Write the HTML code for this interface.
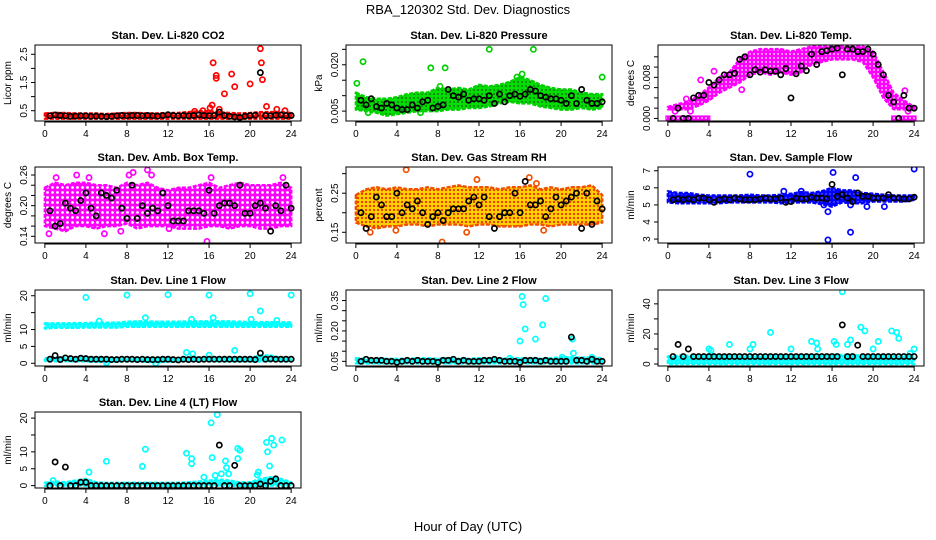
<!DOCTYPE html>
<html><head><meta charset="utf-8"><style>
body{margin:0;background:#fff;}
svg{display:block;font-family:"Liberation Sans",sans-serif;}
</style></head><body>
<svg id="fig" width="936" height="540" viewBox="0 0 936 540" xmlns="http://www.w3.org/2000/svg">
<defs>
<pattern id="pat-red" width="4" height="4" patternUnits="userSpaceOnUse"><rect width="4" height="4" fill="#ff0000"/><circle cx="2" cy="2" r="0.9" fill="#fff"/></pattern>
<pattern id="pat-green" width="4" height="4" patternUnits="userSpaceOnUse"><rect width="4" height="4" fill="#00e000"/><circle cx="2" cy="2" r="0.9" fill="#205020"/></pattern>
<pattern id="pat-mag" width="4" height="4" patternUnits="userSpaceOnUse"><rect width="4" height="4" fill="#ff00ff"/><circle cx="2" cy="2" r="0.9" fill="#fff"/></pattern>
<pattern id="pat-mag2" width="5" height="5" patternUnits="userSpaceOnUse"><rect width="5" height="5" fill="#ff00ff"/><circle cx="2.5" cy="2.5" r="1.4" fill="#fff"/></pattern>
<pattern id="pat-orange" width="4" height="4" patternUnits="userSpaceOnUse"><rect width="4" height="4" fill="#ffd000"/><circle cx="2" cy="2" r="1.1" fill="#e83000"/></pattern>
<pattern id="pat-blue" width="4" height="4" patternUnits="userSpaceOnUse"><rect width="4" height="4" fill="#0000ff"/><circle cx="2" cy="2" r="0.7" fill="#8080ff"/></pattern>
<pattern id="pat-cyan" width="4" height="4" patternUnits="userSpaceOnUse"><rect width="4" height="4" fill="#00ffff"/><circle cx="2" cy="2" r="0.7" fill="#80ffff"/></pattern>
</defs>
<text x="468" y="14" text-anchor="middle" font-size="13">RBA_120302  Std. Dev. Diagnostics</text>
<text x="468" y="531" text-anchor="middle" font-size="13">Hour of Day (UTC)</text>
</svg>
<script>
// ---------- data ----------
const hours = [0,1,2,3,4,5,6,7,8,9,10,11,12,13,14,15,16,17,18,19,20,21,22,23,24];
const blackHours = [0.5,1,1.5,2,2.5,3,3.5,4,4.5,5,5.5,6,6.5,7,7.5,8,8.5,9,9.5,10,10.5,11,11.5,12,12.5,13,13.5,14,14.5,15,15.5,16,16.5,17,17.5,18,18.5,19,19.5,20,20.5,21,21.5,22,22.5,23,23.5,24];
const xTicks = [0,4,8,12,16,20,24];

const p1Lo = [0.22,0.22,0.22,0.22,0.22,0.22,0.22,0.22,0.22,0.22,0.22,0.22,0.22,0.22,0.22,0.22,0.22,0.22,0.22,0.22,0.22,0.22,0.22,0.22,0.22];
const p1Hi = [0.4,0.42,0.42,0.4,0.4,0.4,0.38,0.4,0.42,0.42,0.4,0.4,0.42,0.42,0.45,0.48,0.48,0.45,0.42,0.4,0.42,0.45,0.45,0.45,0.42];
const p1Black = [0.32,0.35,0.33,0.32,0.3,0.31,0.32,0.32,0.3,0.31,0.3,0.29,0.3,0.32,0.33,0.32,0.33,0.33,0.32,0.33,0.32,0.31,0.33,0.36,0.33,0.32,0.33,0.32,0.33,0.35,0.33,0.32,0.33,0.45,0.33,0.3,0.28,0.26,0.3,0.33,0.34,1.85,0.33,0.32,0.34,0.35,0.33,0.33];
const p1OutX = [16.4,16.7,16.7,18.2,18.5,17.5,20,21,21.1,21.2,21.6,16.3,16.1,17,22.6,23.4,15.4,14.6];
const p1OutY = [2.2,1.75,1.65,1.8,1.35,1.1,1.45,2.7,2.2,1.6,0.65,0.7,0.6,0.55,0.55,0.5,0.5,0.48];

const p2Lo = [0.0055,0.005,0.0045,0.0035,0.004,0.0045,0.005,0.005,0.005,0.0055,0.0055,0.006,0.006,0.0065,0.0075,0.008,0.0075,0.0075,0.0065,0.006,0.0055,0.0055,0.006,0.0055,0.006];
const p2Hi = [0.011,0.0095,0.009,0.009,0.0095,0.0105,0.011,0.011,0.0125,0.012,0.0125,0.012,0.0135,0.013,0.0135,0.0145,0.016,0.015,0.0135,0.0125,0.012,0.012,0.011,0.0105,0.0105];
const p2Black = [0.0085,0.007,0.009,0.0065,0.006,0.0075,0.007,0.006,0.0055,0.0055,0.007,0.006,0.008,0.0085,0.006,0.0065,0.007,0.012,0.010,0.0095,0.0105,0.0085,0.009,0.009,0.0085,0.010,0.0075,0.0105,0.008,0.010,0.0105,0.0098,0.0105,0.012,0.0115,0.010,0.0095,0.009,0.009,0.0085,0.0075,0.010,0.0075,0.012,0.0085,0.0075,0.0075,0.008];
const p2OutX = [0.1,0.7,7.3,8.2,8.7,13,17.3,15.7,16.2,24,1.2,6.3];
const p2OutY = [0.014,0.021,0.019,0.013,0.019,0.025,0.025,0.016,0.017,0.016,0.0045,0.0045];

const p3Lo = [0.0018,0.0018,0.0018,0.0025,0.0035,0.005,0.006,0.007,0.0085,0.009,0.0085,0.009,0.0085,0.009,0.0105,0.011,0.0115,0.0115,0.0115,0.011,0.008,0.004,0.0018,0.0018,0.0018];
const p3Hi = [0.0022,0.0028,0.0032,0.0045,0.006,0.008,0.009,0.0115,0.013,0.0135,0.0135,0.0135,0.013,0.0135,0.014,0.014,0.014,0.014,0.014,0.014,0.013,0.009,0.005,0.0035,0.0022];
const p3ZeroStart = [0,22];
const p3ZeroEnd = [3.9,24];
const p3Black = [0,0.002,0,0,0.004,0.0045,0.0045,0.007,0.0065,0.0075,0.0085,0.0085,0.0088,0.0115,0.012,0.0085,0.0095,0.009,0.0095,0.0092,0.0092,0.0085,0.0097,0.004,0.0087,0.0102,0.0093,0.0125,0.0105,0.013,0.0132,0.0135,0.0137,0.0085,0.0135,0.0135,0.013,0.013,0.0135,0.0125,0.0105,0.0085,0.0045,0.0032,0,0.0045,0.002,0.002];
const p3OutX = [0.7,2.2,3.2,4.5,7.2,3.4,2.5,1.8,23.1,23.4];
const p3OutY = [0.0014,0.0014,0.0075,0.0092,0.0056,0.0044,0.0033,0.0038,0.0054,0.0014];

const p4Lo = [0.16,0.155,0.15,0.16,0.16,0.155,0.16,0.16,0.165,0.155,0.16,0.16,0.16,0.155,0.155,0.155,0.16,0.16,0.155,0.16,0.16,0.155,0.155,0.16,0.16];
const p4Hi = [0.235,0.245,0.24,0.245,0.245,0.24,0.24,0.235,0.245,0.24,0.245,0.235,0.23,0.235,0.235,0.24,0.245,0.235,0.24,0.245,0.24,0.24,0.24,0.245,0.235];
const p4Black = [0.19,0.16,0.165,0.205,0.195,0.19,0.21,0.225,0.195,0.18,0.225,0.22,0.215,0.23,0.195,0.175,0.24,0.175,0.2,0.185,0.195,0.19,0.225,0.2,0.17,0.17,0.17,0.19,0.19,0.19,0.185,0.23,0.185,0.2,0.205,0.205,0.2,0.24,0.185,0.185,0.2,0.205,0.195,0.15,0.2,0.19,0.24,0.195];
const p4OutX = [0.4,1.1,3.1,4.3,8.2,8.6,10,10.4,15.8,12.1,16.2,23.2,7.4,5.8];
const p4OutY = [0.145,0.255,0.26,0.255,0.26,0.265,0.27,0.26,0.13,0.155,0.255,0.255,0.15,0.145];

const p5Lo = [0.175,0.165,0.16,0.165,0.165,0.17,0.17,0.165,0.17,0.17,0.17,0.165,0.17,0.17,0.165,0.165,0.165,0.17,0.17,0.165,0.17,0.17,0.17,0.17,0.175];
const p5Hi = [0.245,0.26,0.265,0.26,0.265,0.26,0.26,0.265,0.26,0.265,0.27,0.265,0.265,0.265,0.26,0.265,0.265,0.27,0.26,0.265,0.26,0.265,0.265,0.27,0.245];
const p5Black = [0.20,0.16,0.19,0.24,0.22,0.19,0.19,0.25,0.20,0.22,0.21,0.23,0.20,0.17,0.19,0.20,0.18,0.20,0.21,0.21,0.21,0.23,0.24,0.22,0.24,0.19,0.16,0.19,0.20,0.20,0.25,0.20,0.28,0.22,0.22,0.23,0.19,0.21,0.24,0.22,0.23,0.24,0.25,0.16,0.25,0.17,0.23,0.21];
const p5OutX = [4.9,8.4,11.8,10.8,17.6,18.3,3.9,1.4,16.9];
const p5OutY = [0.31,0.125,0.285,0.15,0.275,0.155,0.155,0.15,0.29];

const p6Lo = [5.15,5.1,5.1,5.1,5.1,5.1,5.15,5.15,5.15,5.15,5.15,5.1,5.15,5.15,5.15,5.05,4.9,5.15,5.1,5.1,5.2,5.2,5.2,5.2,5.3];
const p6Hi = [5.8,5.7,5.7,5.6,5.55,5.55,5.55,5.55,5.6,5.55,5.55,5.6,5.65,5.75,5.7,5.8,6.0,5.85,5.85,5.7,5.65,5.6,5.55,5.55,5.55];
const p6Black = [5.3,5.35,5.3,5.35,5.3,5.4,5.4,5.3,5.15,5.3,5.35,5.3,5.4,5.35,5.3,5.3,5.3,5.35,5.4,5.35,5.35,5.4,5.15,5.2,5.4,5.35,5.35,5.45,5.4,5.4,5.35,6.2,5.5,5.6,5.4,5.2,5.7,5.5,5.5,5.4,5.4,5.4,5.6,5.4,5.4,5.35,5.35,5.45];
const p6OutX = [8,15.6,15.6,16.1,17.8,18.3,21.1,24,11.3,13,19.4,17.8,15.2];
const p6OutY = [6.8,2.95,4.6,6.9,3.4,6.6,4.9,7.1,5.8,5.8,4.9,5.0,5.0];

const p7Lo = [10.3,10.5,10.5,10.5,10.6,10.6,10.6,10.6,10.8,10.8,10.8,10.8,10.8,10.8,10.8,10.8,10.8,10.8,10.8,10.8,10.8,10.8,10.8,10.8,10.8];
const p7Hi = [11.8,11.8,11.8,11.9,11.9,12,12,12,12.3,12.4,12.4,12.3,12.3,12.3,12.4,12.4,12.4,12.4,12.4,12.3,12.2,12.2,12.2,12.1,12.1];
const p7LowLo = [0.7,0.6,0.6,0.6,0.6,0.5,0.4,0.5,0.6,0.6,0.4,0.3,0.5,0.6,0.6,0.6,0.6,0.6,0.6,0.6,0.6,0.6,0.6,0.6,0.6];
const p7LowHi = [1.5,1.6,1.6,1.6,1.6,1.5,1.5,1.5,1.5,1.5,1.5,1.5,1.5,1.5,1.6,1.6,1.6,1.6,1.6,1.6,1.6,2.3,2.3,1.6,1.6];
const p7Black = [1.2,2.3,1.1,1.6,1.4,1.2,1.5,1.4,1.2,1.2,1.2,1.2,1.1,1.1,1.2,1.2,1.2,1.1,1.2,1.1,1.1,1.1,1.2,1.2,1.1,1.0,1.2,1.1,1.2,1.1,1.2,1.2,1.2,1.2,1.2,1.2,1.2,1.2,1.2,1.2,1.1,3.0,1.2,1.3,1.2,1.2,1.2,1.2];
const p7OutX = [4,8,12,16,20,24,21,9.8,14.3,16.4,20.1,22.6,5.3,13.8,14.4,18.5,16,10.8,6];
const p7OutY = [19.5,20.2,20.3,20.2,20.6,20.2,15.5,13.5,13,13.5,13,12.7,12.5,3.2,2.8,3.8,2.4,0,0.2];

const p8Lo = [0.04,0.04,0.04,0.04,0.04,0.04,0.04,0.04,0.04,0.04,0.04,0.04,0.04,0.04,0.04,0.04,0.04,0.04,0.04,0.04,0.04,0.04,0.04,0.04,0.04];
const p8Hi = [0.065,0.062,0.062,0.062,0.062,0.062,0.065,0.065,0.062,0.065,0.062,0.062,0.065,0.065,0.062,0.065,0.065,0.062,0.062,0.065,0.07,0.07,0.068,0.07,0.065];
const p8Black = [0.05,0.06,0.055,0.055,0.055,0.05,0.05,0.045,0.05,0.055,0.05,0.055,0.05,0.05,0.05,0.045,0.055,0.055,0.06,0.05,0.055,0.05,0.05,0.05,0.055,0.055,0.06,0.055,0.05,0.05,0.05,0.045,0.055,0.055,0.055,0.05,0.055,0.05,0.05,0.05,0.05,0.17,0.055,0.055,0.05,0.06,0.05,0.05];
const p8OutX = [16.2,16.3,16.5,16,17.5,18.2,18.5,21.1,21.2,20.1,23,15];
const p8OutY = [0.37,0.33,0.21,0.15,0.16,0.23,0.36,0.16,0.09,0.07,0.07,0.065];

const p9Lo = [0,0,0,0,0,0,0,0,0,0,0,0,0,0,0,0,0,0,0,0,0,0,0,0,0];
const p9Hi = [5,5.5,5.5,5.5,5.5,5.5,5.5,5.5,5.5,5.5,5.5,5.5,5.5,5.5,6,6,6,6,6,5.5,5.5,5.5,5.5,5.5,5];
const p9Black = [5,13,5,10,5,5,5,5,5,5,5,5,5,5,5,5,5,5,5,5,5,5,5,5,5,5,5,5,5,5,5,5,5,26,5,5,12.5,5,5,5,5,5,5,5,5,5,5,5];
const p9OutX = [17,8.3,10,14,14.5,16.2,16.4,17.5,17.8,18.8,19.2,21.8,22.3,22.5,20.5,6,4,4.2,8,12,20,24,23.6,14.6];
const p9OutY = [48,13,21,15,14,15,13,13,16,24.5,22,22,21,17,15,13,10,9,10,10,10,10,7,10];

const p10Lo = [0,0,0,0,0,0,0,0,0,0,0,0,0,0,0,0,0,0,0,0,0,0,0,0,0];
const p10Hi = [0.8,1.2,1,1.5,2,1,0.8,0.8,0.8,0.8,0.8,0.8,0.8,0.8,1,1.2,1.5,1.8,1.5,1,1,2,2.5,2,1];
const p10Black = [0,7,0,5.5,0,0,1,1,0,0,0,0,0,0,0,0,0,0,0,0,0,0,0,0,0,0,0,0,0,0,0,0,0,12,0,0,6,0,0,0,0,0.5,0,1.3,2,0,0,0];
const p10OutX = [16.8,16.2,22.1,23.1,21.6,22.3,18.8,19,21.7,9.8,13.8,14.3,14.3,9.5,6,16.3,17.6,17.7,17.9,18.8,21.9,4.3,17.2,16.6,15.5,0.8,20.8,20.7];
const p10OutY = [21,18.6,14,13.5,12.8,12,11,10.5,10,10.8,9.6,8,6.5,5.7,7.2,8.3,7.3,5.3,3.5,8,5.8,4,3.5,3,2.5,1.5,4,3.2];

// ---------- layout ----------
const NS = "http://www.w3.org/2000/svg";
const svg = document.getElementById('fig');
const colL = [35,346,658], rowT = [45,167,290,412], PW = 266, PH = 76;
function mk(tag, attrs, parent){ const e=document.createElementNS(NS,tag); for(const k in attrs) e.setAttribute(k,attrs[k]); (parent||svg).appendChild(e); return e; }

const panels = [
 {name:'co2',title:'Stan. Dev. Li-820 CO2',ylab:'Licor ppm',r:0,c:0,ymin:0.135,ymax:2.83,ticks:[0.5,1,1.5,2,2.5],labels:['0.5','','1.5','','2.5'],col:'#ff0000',pat:'pat-red',bands:[[p1Lo,p1Hi]],black:p1Black,ox:p1OutX,oy:p1OutY},
 {name:'pressure',title:'Stan. Dev. Li-820 Pressure',ylab:'kPa',r:0,c:1,ymin:0.0018,ymax:0.0264,ticks:[0.005,0.01,0.015,0.02,0.025],labels:['0.005','','','0.020',''],col:'#00d000',pat:'pat-green',bands:[[p2Lo,p2Hi]],black:p2Black,ox:p2OutX,oy:p2OutY},
 {name:'li820-temp',title:'Stan. Dev. Li-820 Temp.',ylab:'degrees C',r:0,c:2,ymin:-0.0005,ymax:0.0143,ticks:[0,0.002,0.004,0.006,0.008,0.010,0.012],labels:['0.000','','','','0.008','',''],col:'#ff00ff',pat:'pat-mag',bands:[[p3Lo,p3Hi]],zero:true,black:p3Black,ox:p3OutX,oy:p3OutY},
 {name:'amb-box-temp',title:'Stan. Dev. Amb. Box Temp.',ylab:'degrees C',r:1,c:0,ymin:0.1269,ymax:0.2757,ticks:[0.14,0.16,0.18,0.2,0.22,0.24,0.26],labels:['0.14','','','0.20','','','0.26'],col:'#ff00ff',pat:'pat-mag2',bands:[[p4Lo,p4Hi]],black:p4Black,ox:p4OutX,oy:p4OutY},
 {name:'gas-stream-rh',title:'Stan. Dev. Gas Stream RH',ylab:'percent',r:1,c:1,ymin:0.1226,ymax:0.317,ticks:[0.15,0.2,0.25,0.3],labels:['0.15','','0.25',''],col:'#f05000',pat:'pat-orange',bands:[[p5Lo,p5Hi]],black:p5Black,ox:p5OutX,oy:p5OutY},
 {name:'sample-flow',title:'Stan. Dev. Sample Flow',ylab:'ml/min',r:1,c:2,ymin:2.77,ymax:7.22,ticks:[3,4,5,6,7],labels:['3','4','5','6','7'],col:'#0000ff',pat:'pat-blue',bands:[[p6Lo,p6Hi]],black:p6Black,ox:p6OutX,oy:p6OutY},
 {name:'line1-flow',title:'Stan. Dev. Line 1 Flow',ylab:'ml/min',r:2,c:0,ymin:-0.8,ymax:21.7,ticks:[0,5,10,15,20],labels:['0','5','10','','20'],col:'#00ffff',pat:'pat-cyan',bands:[[p7Lo,p7Hi],[p7LowLo,p7LowHi]],black:p7Black,ox:p7OutX,oy:p7OutY},
 {name:'line2-flow',title:'Stan. Dev. Line 2 Flow',ylab:'ml/min',r:2,c:1,ymin:0.027,ymax:0.402,ticks:[0.05,0.1,0.15,0.2,0.25,0.3,0.35],labels:['0.05','','','0.20','','','0.35'],col:'#00ffff',pat:'pat-cyan',bands:[[p8Lo,p8Hi]],black:p8Black,ox:p8OutX,oy:p8OutY},
 {name:'line3-flow',title:'Stan. Dev. Line 3 Flow',ylab:'ml/min',r:2,c:2,ymin:-1.3,ymax:49.2,ticks:[0,10,20,30,40],labels:['0','','20','','40'],col:'#00ffff',pat:'pat-cyan',bands:[[p9Lo,p9Hi]],black:p9Black,ox:p9OutX,oy:p9OutY},
 {name:'line4-flow',title:'Stan. Dev. Line 4 (LT) Flow',ylab:'ml/min',r:3,c:0,ymin:-0.7,ymax:21.8,ticks:[0,5,10,15,20],labels:['0','5','10','','20'],col:'#00ffff',pat:'pat-cyan',bands:[[p10Lo,p10Hi]],black:p10Black,ox:p10OutX,oy:p10OutY}
];

panels.forEach(p=>{
  const L=colL[p.c], T=rowT[p.r];
  const xs = t => L + 9.85 + t*(246.3/24);
  const ys = v => T + PH - (v - p.ymin)/(p.ymax - p.ymin)*PH;
  const g = mk('g',{});
  
  
  const clipId='clip-'+p.name;
  const cp=mk('clipPath',{id:clipId},g); mk('rect',{x:L,y:T,width:PW,height:PH},cp);
  const plot=mk('g',{'clip-path':'url(#'+clipId+')'},g);
  p.bands.forEach(b=>{
    const lo=b[0], hi=b[1];
    let d='M'+hours.map((h,i)=>xs(h).toFixed(1)+','+ys(hi[i]).toFixed(1)).join(' L');
    d+=' L'+hours.slice().reverse().map((h,j)=>{const i=hours.length-1-j; return xs(h).toFixed(1)+','+ys(lo[i]).toFixed(1);}).join(' L')+' Z';
    const band=mk('path',{d:d,fill:'url(#'+p.pat+')',stroke:p.col,'stroke-width':2.5,'stroke-linejoin':'round','stroke-dasharray':'4 1.5'},plot);
    
    
  });
  if(p.zero){
    p3ZeroStart.forEach((s,i)=>{
      const z=mk('rect',{x:xs(s)-2,y:ys(0)-2.5,width:xs(p3ZeroEnd[i])-xs(s)+4,height:5,fill:'url(#pat-mag)',stroke:p.col,'stroke-width':1},plot);
      
      
    });
  }
  p.ox.forEach((x,i)=>{
    const c=mk('circle',{cx:xs(x),cy:ys(p.oy[i]),r:2.6,fill:'none',stroke:p.col,'stroke-width':1.7},plot);
    
    
  });
  p.black.forEach((v,i)=>{
    const c=mk('circle',{cx:xs(blackHours[i]),cy:ys(v),r:2.6,fill:'none',stroke:'#000','stroke-width':1.7},plot);
    
    
  });
  const box=mk('rect',{x:L,y:T,width:PW,height:PH,fill:'none',stroke:'#000','stroke-width':1},g);
  
  
  const tt=mk('text',{x:L+PW/2,y:T-6,'text-anchor':'middle','font-size':11,'font-weight':'bold'},g);
  tt.textContent=p.title;
  
  
  const yl=mk('text',{x:0,y:0,'text-anchor':'middle','font-size':10,transform:'translate('+(L-24)+','+(T+PH/2)+') rotate(-90)'},g);
  yl.textContent=p.ylab;
  
  
  mk('line',{x1:L,x2:L,y1:ys(p.ticks[0]),y2:ys(p.ticks[p.ticks.length-1]),stroke:'#000'},g);
  p.ticks.forEach((t,i)=>{
    const y=ys(t);
    mk('line',{x1:L-4,x2:L,y1:y,y2:y,stroke:'#000'},g);
    if(p.labels[i]){
      const lb=mk('text',{'text-anchor':'middle','font-size':10,transform:'translate('+(L-8)+','+y+') rotate(-90)'},g);
      lb.textContent=p.labels[i];
      
      
    }
  });
  mk('line',{x1:xs(0),x2:xs(24),y1:T+PH+1,y2:T+PH+1,stroke:'#000'},g);
  xTicks.forEach(t=>{
    const x=xs(t);
    mk('line',{x1:x,x2:x,y1:T+PH,y2:T+PH+5,stroke:'#000'},g);
    const lb=mk('text',{x:x,y:T+PH+16,'text-anchor':'middle','font-size':10},g);
    lb.textContent=String(t);
    
    
  });
});
</script>
</body></html>
